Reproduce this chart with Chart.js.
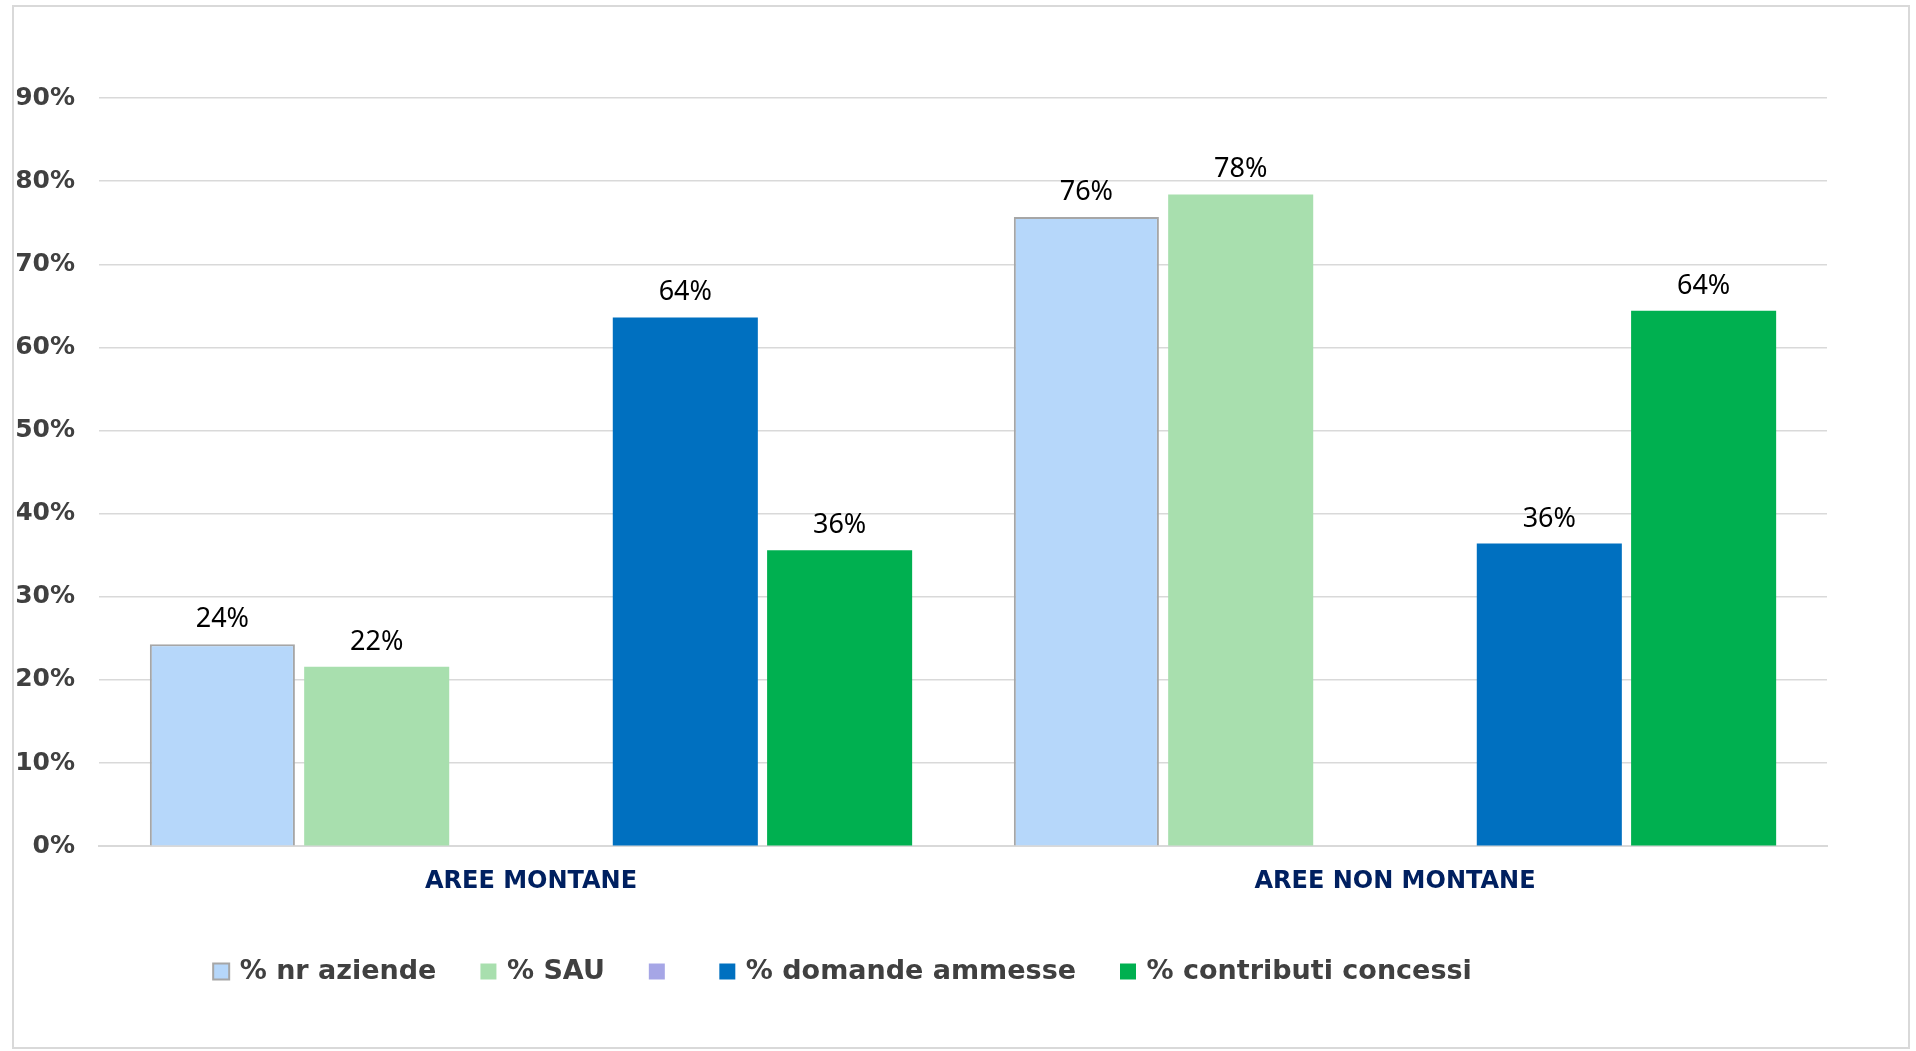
<!DOCTYPE html>
<html>
<head>
<meta charset="utf-8">
<script src="https://cdn.jsdelivr.net/npm/chart.js@4/dist/chart.umd.min.js"></script>
<style>
    html, body { margin: 0; padding: 0; background: #fff; }
    #wrap { position: relative; width: 1916px; height: 1051px; }
    #frame { position: absolute; left: 12px; top: 5px; width: 1898px; height: 1044px; box-sizing: border-box; border: 2px solid #d9d9d9; pointer-events: none; }
</style>
</head>
<body>
<div id="wrap">
    <canvas id="chart"></canvas>
    <div id="frame"></div>
</div>
<script>
// ========================
// Data
// ========================
const categories = ['AREE MONTANE', 'AREE NON MONTANE'];
const nrAziende = [24.3, 75.7];
const sau = [21.6, 78.4];
const emptySeries = [null, null];
const domandeAmmesse = [63.6, 36.4];
const contributiConcessi = [35.6, 64.4];
const yTicks = [0, 10, 20, 30, 40, 50, 60, 70, 80, 90];

// value labels above the bars
const barLabels = {
    id: 'barLabels',
    afterDatasetsDraw(chart) {
        const ctx = chart.ctx;
        ctx.save();
        ctx.font = '27px "Noto Sans"';
        ctx.fillStyle = '#000';
        ctx.textAlign = 'center';
        ctx.textBaseline = 'alphabetic';
        chart.data.datasets.forEach((ds, i) => {
            const meta = chart.getDatasetMeta(i);
            meta.data.forEach((bar, j) => {
                const v = ds.data[j];
                if (v === null || v === undefined) return;
                ctx.fillText(Math.round(v) + '%', bar.x, bar.y - 17);
            });
        });
        ctx.restore();
    }
};

// move the legend where the original sits
const legendShift = {
    id: 'legendShift',
    afterLayout(chart) {
        const lg = chart.legend;
        if (!lg) return;
        lg.left -= 78; lg.right -= 78;
        lg.top -= 6; lg.bottom -= 6;
    }
};

new Chart(document.getElementById('chart'), {
    type: 'bar',
    data: {
        labels: categories,
        datasets: [
            { label: '% nr aziende', data: nrAziende, backgroundColor: '#b6d7fa', borderColor: '#a6a6a6', borderWidth: 2 },
            { label: '% SAU', data: sau, backgroundColor: '#a8dfae', borderWidth: 0 },
            { label: '', data: emptySeries, backgroundColor: '#a6a6e6', borderWidth: 0 },
            { label: '% domande ammesse', data: domandeAmmesse, backgroundColor: '#0070c0', borderWidth: 0 },
            { label: '% contributi concessi', data: contributiConcessi, backgroundColor: '#00b050', borderWidth: 0 }
        ]
    },
    options: {
        responsive: true,
        maintainAspectRatio: false,
        animation: false,
        layout: { padding: { left: 17, right: 89, top: 98, bottom: 50 } },
        datasets: { bar: { categoryPercentage: 0.893, barPercentage: 0.94 } },
        plugins: {
            legend: {
                position: 'bottom',
                labels: {
                    usePointStyle: true, pointStyle: 'rect',
                    boxWidth: 10, boxHeight: 16, padding: 47,
                    color: '#404040',
                    font: { family: '"DejaVu Sans"', size: 27, weight: 'bold' }
                }
            },
            tooltip: { enabled: false }
        },
        scales: {
            x: {
                grid: { display: false, drawTicks: false },
                border: { display: true, color: '#d9d9d9', width: 2 },
                ticks: { padding: 21, color: '#002060', font: { family: '"DejaVu Sans"', size: 24, weight: 'bold' } }
            },
            y: {
                min: 0, max: 90,
                afterBuildTicks: (axis) => { axis.ticks = yTicks.map(v => ({ value: v })); },
                afterFit: (axis) => { axis.width = 82; },
                grid: { color: '#d9d9d9', lineWidth: 1.5, drawTicks: false },
                border: { display: false },
                ticks: {
                    padding: 24, color: '#404040',
                    font: { family: '"DejaVu Sans"', size: 25, weight: 'bold' },
                    callback: v => v + '%'
                }
            }
        }
    },
    plugins: [barLabels, legendShift]
});
</script>
</body>
</html>
